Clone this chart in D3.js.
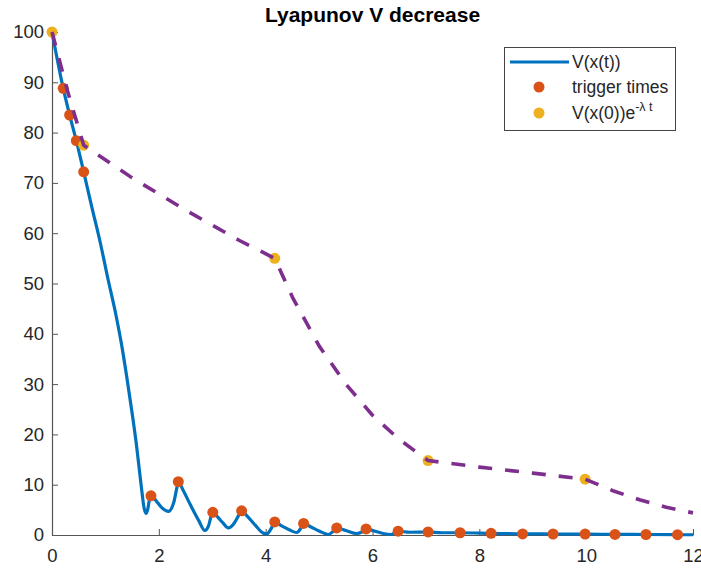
<!DOCTYPE html>
<html>
<head>
<meta charset="utf-8">
<script src="https://cdn.jsdelivr.net/npm/d3@7"></script>
<style>
  html, body { margin: 0; padding: 0; background: #fff; }
  svg { display: block; font-family: "Liberation Sans", Arial, Helvetica, sans-serif; }
</style>
</head>
<body>
<svg id="chart" width="701" height="570"></svg>
<script>
// V(x(t)) along the trajectory
const curveT = [0, 0.21, 0.33, 0.455, 0.593, 0.75, 0.9, 1.05, 1.2, 1.3, 1.4, 1.5, 1.58, 1.64, 1.69, 1.72, 1.76, 1.79, 1.82, 1.853,
  1.95, 2.05, 2.18, 2.28, 2.34, 2.365, 2.45, 2.6, 2.75, 2.86, 2.93, 2.98, 3.01, 3.1, 3.2, 3.3, 3.4, 3.5, 3.55, 3.65, 3.8, 3.95,
  4.02, 4.1, 4.17, 4.3, 4.45, 4.58, 4.65, 4.71, 4.85, 5.0, 5.17, 5.25, 5.33, 5.5, 5.7, 5.8, 5.88, 6.0, 6.2, 6.35, 6.48, 6.7,
  7.04, 7.3, 7.64, 8.22, 8.81, 9.38, 9.98, 10.54, 11.12, 11.71, 12];
const curveV = [100, 88.8, 83.5, 78.4, 72.2, 65, 58.3, 50.8, 43.6, 38.0, 31.4, 24.2, 18, 12.5, 8, 5.6, 4.3, 5.0, 6.8, 7.8,
  6.8, 5.5, 4.7, 6.5, 9.5, 10.6, 9.0, 5.8, 2.8, 0.9, 1.8, 3.8, 4.5, 3.6, 2.4, 1.4, 2.2, 4.0, 4.8, 3.8, 2.0, 0.4,
  0.2, 1.2, 2.6, 1.8, 1.0, 0.5, 1.2, 2.3, 1.6, 0.8, 0.1, 0.6, 1.4, 0.9, 0.3, 0.6, 1.2, 0.9, 0.3, 0.1, 0.75, 0.55,
  0.6, 0.45, 0.45, 0.33, 0.22, 0.2, 0.18, 0.12, 0.1, 0.06, 0.05];

// event-trigger instants and V at those instants
const triggerT = [0.21, 0.33, 0.455, 0.593, 1.853, 2.365, 3.01, 3.55, 4.17, 4.71, 5.33, 5.88, 6.48, 7.04, 7.64, 8.22, 8.81, 9.38, 9.98, 10.54, 11.12, 11.71];
const triggerV = [88.8, 83.5, 78.4, 72.2, 7.8, 10.6, 4.5, 4.8, 2.6, 2.3, 1.4, 1.2, 0.75, 0.6, 0.45, 0.33, 0.22, 0.2, 0.18, 0.12, 0.1, 0.06];

// exponential bound V(x(0))e^{-λt}: marked points and the dashed envelope
const boundT = [0, 0.593, 4.17, 7.04, 9.98];
const boundV = [100, 77.5, 55, 14.8, 11.1];
const envT = [0, 0.3, 0.593, 1.5, 2.5, 3.5, 4.17, 4.5, 5.0, 5.5, 6.0, 6.5, 7.04, 8, 9, 9.98, 10.5, 11, 11.5, 12];
const envV = [100, 87.9, 77.5, 71.0, 64.6, 58.6, 55, 47.3, 37.6, 30.0, 23.8, 19.0, 14.8, 13.5, 12.3, 11.1, 8.8, 7.0, 5.5, 4.4];

const xTicks = [0, 2, 4, 6, 8, 10, 12];
const yTicks = [0, 10, 20, 30, 40, 50, 60, 70, 80, 90, 100];

const svg = d3.select("#chart");
const x = d3.scaleLinear().domain([0, 12]).range([52, 693]);
const y = d3.scaleLinear().domain([0, 100]).range([535, 32]);

const axisColor = "#555";
const textColor = "#262626";

// axes (left and bottom only, ticks pointing inward)
const xAxis = svg.append("g").attr("transform", `translate(0,${y(0)})`)
  .call(d3.axisBottom(x).tickValues(xTicks).tickSizeInner(-6).tickSizeOuter(0).tickPadding(14).tickFormat(d3.format("d")));
const yAxis = svg.append("g").attr("transform", `translate(${x(0)},0)`)
  .call(d3.axisLeft(y).tickValues(yTicks).tickSizeInner(-6).tickSizeOuter(0).tickPadding(8).tickFormat(d3.format("d")));
[xAxis, yAxis].forEach(g => {
  g.select(".domain").attr("stroke", axisColor).attr("stroke-width", 1.2);
  g.selectAll(".tick line").attr("stroke", axisColor).attr("stroke-width", 1);
  g.selectAll(".tick text").attr("fill", textColor).attr("font-size", 18.5)
    .attr("font-family", "\"Liberation Sans\", Arial, sans-serif");
});
xAxis.selectAll(".tick text").attr("dy", "0.71em");

// title
svg.append("text").attr("x", (x(0) + x(12)) / 2).attr("y", 22)
  .attr("text-anchor", "middle").attr("font-weight", "bold").attr("font-size", 21)
  .attr("fill", "#000").text("Lyapunov V decrease");

const plot = svg.append("g");

// V(x(t)) curve
const vLine = d3.line().x(d => x(d[0])).y(d => y(d[1])).curve(d3.curveMonotoneX);
plot.append("path").datum(d3.zip(curveT, curveV))
  .attr("d", vLine).attr("fill", "none").attr("stroke", "#0072BD")
  .attr("stroke-width", 3.2).attr("stroke-linejoin", "round");

// trigger markers
plot.selectAll("circle.trig").data(d3.zip(triggerT, triggerV)).join("circle")
  .attr("class", "trig").attr("cx", d => x(d[0])).attr("cy", d => y(d[1]))
  .attr("r", 5.5).attr("fill", "#D95319");

// bound markers
plot.selectAll("circle.bound").data(d3.zip(boundT, boundV)).join("circle")
  .attr("class", "bound").attr("cx", d => x(d[0])).attr("cy", d => y(d[1]))
  .attr("r", 5.5).attr("fill", "#EDB120");

// dashed exponential envelope
plot.append("path").datum(d3.zip(envT, envV))
  .attr("d", d3.line().x(d => x(d[0])).y(d => y(d[1])))
  .attr("fill", "none").attr("stroke", "#7E2F8E").attr("stroke-width", 3.6)
  .attr("stroke-dasharray", "14,13").attr("stroke-linejoin", "round");

// legend
const lg = svg.append("g");
lg.append("rect").attr("x", 504.5).attr("y", 47.5).attr("width", 171).attr("height", 83)
  .attr("fill", "#fff").attr("stroke", "#444").attr("stroke-width", 1);
lg.append("line").attr("x1", 510).attr("x2", 569).attr("y1", 62).attr("y2", 62)
  .attr("stroke", "#0072BD").attr("stroke-width", 3.2);
lg.append("circle").attr("cx", 539).attr("cy", 87).attr("r", 5.5).attr("fill", "#D95319");
lg.append("circle").attr("cx", 539).attr("cy", 113).attr("r", 5.5).attr("fill", "#EDB120");
const lt = lg.append("g").attr("font-size", 17.5).attr("fill", textColor);
lt.append("text").attr("x", 572).attr("y", 68).text("V(x(t))");
lt.append("text").attr("x", 572).attr("y", 93).text("trigger times");
const t3 = lt.append("text").attr("x", 572).attr("y", 119);
t3.append("tspan").text("V(x(0))e");
t3.append("tspan").attr("font-size", 12.5).attr("dy", -8).text("-λ t");
</script>
</body>
</html>
